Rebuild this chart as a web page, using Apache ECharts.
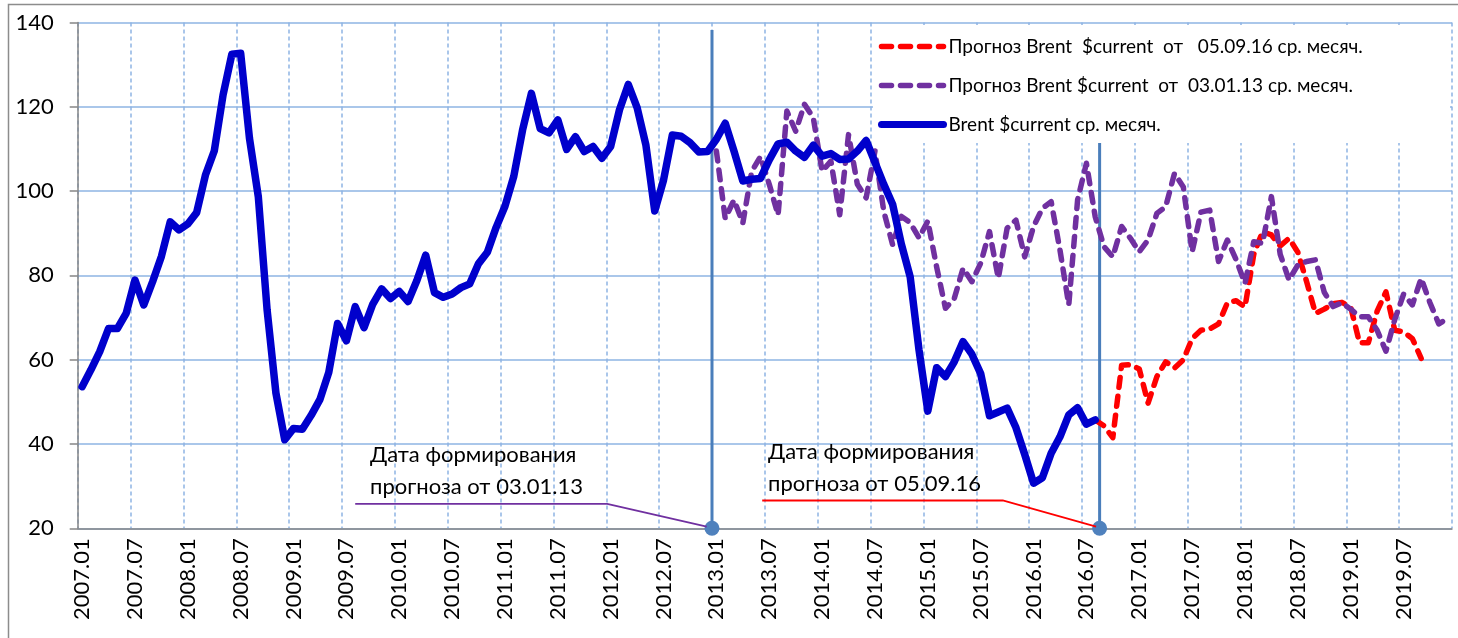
<!DOCTYPE html>
<html>
<head>
<meta charset="utf-8">
<script src="https://cdn.jsdelivr.net/npm/echarts@6/dist/echarts.min.js"></script>
<style>html,body{margin:0;padding:0;background:#fff}#c{width:1458px;height:638px}</style>
</head>
<body>
<div id="c"></div>
<script>
// ---- categories (monthly, 2007.01 .. 2019.12) ----
const years = [2007, 2008, 2009, 2010, 2011, 2012, 2013, 2014, 2015, 2016, 2017, 2018, 2019];
const monthCodes = ['01','02','03','04','05','06','07','08','09','10','11','12'];
const categories = [];
years.forEach(y => monthCodes.forEach(m => categories.push(y + '.' + m)));

// ---- series names ----
const nameF16 = 'Прогноз Brent  $current  от   05.09.16 ср. месяч.';
const nameF13 = 'Прогноз Brent $current  от  03.01.13 ср. месяч.';
const nameAct = 'Brent $current ср. месяч.';

// ---- actual Brent, monthly average, from 2007.01 ----
const actualStart = '2007.01';
const brentActual = [
  53.6, 57.6, 61.9, 67.4, 67.4, 71.0, 78.9, 73.0, 78.5, 84.5, 92.7, 90.8,
  92.2, 94.9, 103.8, 109.5, 122.8, 132.5, 132.7, 112.5, 98.7, 71.8, 52.1, 41.0,
  43.7, 43.5, 46.8, 50.6, 57.0, 68.6, 64.5, 72.6, 67.6, 73.2, 76.8, 74.5,
  76.2, 73.8, 78.8, 84.8, 75.9, 74.8, 75.6, 77.1, 78.0, 82.8, 85.5, 91.4,
  96.4, 103.5, 114.5, 123.2, 114.8, 113.8, 116.9, 109.9, 112.9, 109.4, 110.6, 107.8,
  110.6, 119.3, 125.3, 119.8, 110.9, 95.3, 102.6, 113.3, 113.0, 111.5, 109.3, 109.4,
  112.3, 116.1, 109.5, 102.4, 102.8, 103.0, 107.4, 111.2, 111.6, 109.5, 108.0, 110.9,
  108.3, 108.9, 107.5, 107.6, 109.5, 112.0, 106.8, 101.6, 96.9, 87.4, 79.6, 62.3,
  47.8, 58.1, 56.0, 59.5, 64.3, 61.3, 56.7, 46.7, 47.6, 48.5, 43.9, 37.5,
  30.7, 32.0, 37.8, 41.7, 46.9, 48.6, 44.7, 45.7
];

// ---- forecast of 03.01.13, from 2013.01 ----
const forecast13Start = '2013.01';
const forecast13 = [
  109.5, 93.5, 97.9, 92.4, 104.6, 108.2, 101.6, 94.3, 119.0, 114.2, 120.6, 117.4,
  104.7, 107.1, 94.4, 113.4, 101.6, 98.4, 109.5, 95.2, 87.3, 94.0, 92.5, 88.9,
  92.9, 82.0, 72.2, 74.5, 81.7, 78.5, 82.9, 90.4, 79.3, 91.2, 93.1, 84.4,
  91.6, 95.9, 97.5, 86.0, 73.0, 97.9, 106.6, 93.9, 86.8, 84.4, 91.6, 88.8,
  85.6, 88.4, 94.7, 96.3, 104.2, 101.0, 85.6, 95.0, 95.5, 83.3, 88.4, 83.7,
  78.1, 88.0, 87.6, 98.7, 85.0, 78.9, 82.5, 83.3, 83.7, 76.0, 72.6, 73.5,
  72.0, 70.2, 70.2, 67.0, 62.0, 69.5, 75.5, 73.0, 79.3, 73.5, 68.5, 69.8
];

// ---- forecast of 05.09.16, from 2016.08 ----
const forecast16Start = '2016.08';
const forecast16 = [
  45.7, 44.3, 41.5, 58.7, 58.8, 57.8, 49.7, 56.0, 59.5, 58.0, 60.0, 65.0,
  67.0, 67.3, 68.5, 73.5, 74.0, 72.5, 85.0, 90.4, 89.6, 87.0, 88.8, 85.5,
  78.5, 71.0, 72.0, 73.3, 73.6, 72.5, 64.0, 64.0, 71.5, 76.1, 67.0, 66.6,
  65.0, 60.3
];

// ---- forecast-date markers (month at which the date falls, top of marker) ----
const markerMonths = ['2013.01', '2016.09'];
const markerTops = [138.2, 112.5];

// ---- y-axis ticks ----
const yTicks = [20, 40, 60, 80, 100, 120, 140];

function place(start, vals) {
  const arr = new Array(categories.length).fill(null);
  const s = categories.indexOf(start);
  vals.forEach((v, i) => { arr[s + i] = v; });
  return arr;
}

const FONT = 'Lato, "Open Sans", sans-serif';
const GRID_COLOR = '#8EB4E3';
const AXIS_COLOR = '#868686';
const RED = '#FF0000', PURPLE = '#7030A0', BLUE = '#0000CC';
const DASH = [10, 9];

const markerSeries = markerMonths.map((m, k) => {
  const b = categories.indexOf(m);
  return {
    type: 'line', xAxisIndex: 1, yAxisIndex: 0, silent: true,
    data: [
      { value: [b, markerTops[k]], symbol: 'none' },
      { value: [b, yTicks[0]], symbol: 'circle', symbolSize: 15 }
    ],
    lineStyle: { color: '#4A7EBB', width: 3 },
    itemStyle: { color: '#4F81BD' },
    z: 2
  };
});

// leader lines of the annotations (in axis units: boundary index, value)
const leader13 = [[31.5, 25.8], [60.1, 25.8], [71.4, 20.4]];
const leader16 = [[77.7, 26.6], [105.0, 26.6], [115.6, 20.4]];

const chart = echarts.init(document.getElementById('c'), null, { renderer: 'canvas' });
chart.setOption({
  animation: false,
  backgroundColor: '#fff',
  grid: { left: 77.7, right: 6, top: 22.5, bottom: 109.7, containLabel: false },
  xAxis: [{
    type: 'category', data: categories, boundaryGap: true,
    axisLine: { lineStyle: { color: AXIS_COLOR, width: 1.5 } },
    axisTick: { interval: 5, length: 8, lineStyle: { color: AXIS_COLOR, width: 1.5 } },
    axisLabel: { interval: 5, rotate: 90, fontSize: 22, fontFamily: FONT, color: '#000', margin: 10 },
    splitLine: { show: true, interval: 5, lineStyle: { color: GRID_COLOR, width: 1.5, type: [4, 3] } }
  }, {
    type: 'value', min: 0, max: categories.length, show: false
  }],
  yAxis: {
    type: 'value', min: yTicks[0], max: yTicks[yTicks.length - 1], interval: 20,
    axisLine: { show: true, lineStyle: { color: AXIS_COLOR, width: 1.5 } },
    axisTick: { show: true, length: 8, lineStyle: { color: AXIS_COLOR, width: 1.5 } },
    axisLabel: { fontSize: 22, fontFamily: FONT, color: '#000', margin: 24 },
    splitLine: { show: true, lineStyle: { color: GRID_COLOR, width: 1.5 } }
  },
  legend: {
    data: [
      { name: nameF16, lineStyle: { width: 5.5, type: DASH, color: RED } },
      { name: nameF13, lineStyle: { width: 5.5, type: DASH, color: PURPLE } },
      { name: nameAct, lineStyle: { width: 7, type: 'solid', color: BLUE } }
    ],
    orient: 'vertical', left: 878, top: 36.5, padding: 0,
    itemWidth: 62, itemHeight: 14, itemGap: 19,
    itemStyle: { opacity: 0 },
    textStyle: { fontSize: 19, fontFamily: FONT, color: '#000', lineHeight: 20 },
    selectedMode: false
  },
  graphic: [
    { type: 'rect', shape: { x: 8.5, y: 4.5, width: 1470, height: 660 },
      style: { fill: 'none', stroke: '#8C8C8C', lineWidth: 1.5 }, z: 0, silent: true },
    { type: 'rect', shape: { x: 873, y: 25, width: 577, height: 118 },
      style: { fill: '#fff' }, z: 3, silent: true },
    { type: 'text', left: 370, top: 439, z: 10,
      style: { text: 'Дата формирования\nпрогноза от 03.01.13', fontSize: 22, fontFamily: FONT, fill: '#000', lineHeight: 32 } },
    { type: 'text', left: 768, top: 436, z: 10,
      style: { text: 'Дата формирования\nпрогноза от 05.09.16', fontSize: 22, fontFamily: FONT, fill: '#000', lineHeight: 32 } }
  ],
  series: [
    ...markerSeries,
    { type: 'line', xAxisIndex: 1, data: leader13, symbol: 'none', silent: true,
      lineStyle: { color: PURPLE, width: 1.8 } },
    { type: 'line', xAxisIndex: 1, data: leader16, symbol: 'none', silent: true,
      lineStyle: { color: RED, width: 1.8 } },
    { name: nameF16, type: 'line', data: place(forecast16Start, forecast16), symbol: 'none',
      lineStyle: { color: RED, width: 5.5, type: DASH, cap: 'round', join: 'round' },
      itemStyle: { color: RED } },
    { name: nameF13, type: 'line', data: place(forecast13Start, forecast13), symbol: 'none',
      lineStyle: { color: PURPLE, width: 5.5, type: DASH, cap: 'round', join: 'round' },
      itemStyle: { color: PURPLE } },
    { name: nameAct, type: 'line', data: place(actualStart, brentActual), symbol: 'none',
      lineStyle: { color: BLUE, width: 7.5, cap: 'round', join: 'round' },
      itemStyle: { color: BLUE } }
  ]
});
</script>
</body>
</html>
